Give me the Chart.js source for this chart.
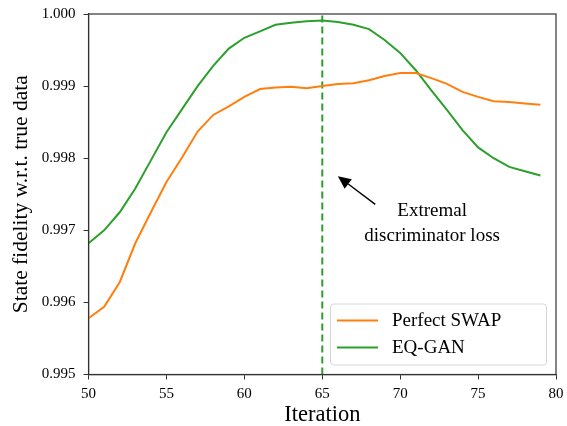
<!DOCTYPE html>
<html>
<head>
<meta charset="utf-8">
<script src="https://cdn.jsdelivr.net/npm/chart.js@4/dist/chart.umd.min.js"></script>
<style>
  html, body { margin: 0; padding: 0; background: #fff; }
  #wrap { width: 567px; height: 426px; }
</style>
</head>
<body>
<div id="wrap"><canvas id="fidelityChart"></canvas></div>
<script>
const iterations = [50, 51, 52, 53, 54, 55, 56, 57, 58, 59, 60, 61, 62, 63, 64,
    65, 66, 67, 68, 69, 70, 71, 72, 73, 74, 75, 76, 77, 78, 79];
const perfectSwap = [0.99578, 0.99594, 0.99628, 0.99682, 0.99725, 0.99767, 0.99801, 0.99837, 0.99860, 0.99872,
    0.99885, 0.99896, 0.99898, 0.99899, 0.99897, 0.99900, 0.99903, 0.99904, 0.99908, 0.99914,
    0.99918, 0.99918, 0.99911, 0.99903, 0.99892, 0.99885, 0.99879, 0.99878, 0.99876, 0.99874];
const eqGan = [0.99682, 0.99700, 0.99725, 0.99758, 0.99797, 0.99836, 0.99868, 0.99900, 0.99928, 0.99952,
    0.99967, 0.99976, 0.99985, 0.99988, 0.99990, 0.99991, 0.99989, 0.99985, 0.99979, 0.99964,
    0.99946, 0.99922, 0.99894, 0.99867, 0.99839, 0.99815, 0.99800, 0.99788, 0.99782, 0.99776];
const xTicks = [50, 55, 60, 65, 70, 75, 80];
const yTicks = [0.995, 0.996, 0.997, 0.998, 0.999, 1.000];
const markerIteration = 65;
const arrowTip = { x: 66, y: 0.99775 };
const arrowTail = { x: 68.4, y: 0.99736 };
const noteLines = ['Extremal', 'discriminator loss'];
const noteAnchor = { x: 72.05, y: 0.99720 };

const serif = '"Liberation Serif", "Times New Roman", serif';
const orange = '#ff7f0e';
const green = '#2ca02c';
const axisInk = '#333333';

const toPoints = (values) => values.map((v, i) => ({ x: iterations[i], y: v }));

const framePlugin = {
    id: 'frameAndNotes',
    afterDatasetsDraw(chart) {
        const { ctx, chartArea, scales } = chart;
        const xs = scales.x;
        const ys = scales.y;

        // frame on all four sides
        ctx.save();
        ctx.strokeStyle = axisInk;
        ctx.lineWidth = 1.2;
        ctx.strokeRect(chartArea.left, chartArea.top, chartArea.right - chartArea.left, chartArea.bottom - chartArea.top);

        // annotation arrow
        const tx = xs.getPixelForValue(arrowTip.x);
        const ty = ys.getPixelForValue(arrowTip.y);
        const sx = xs.getPixelForValue(arrowTail.x);
        const sy = ys.getPixelForValue(arrowTail.y);
        const ang = Math.atan2(ty - sy, tx - sx);
        const headLen = 13;
        const headHalf = 6;
        const bx = tx - headLen * Math.cos(ang);
        const by = ty - headLen * Math.sin(ang);
        ctx.strokeStyle = '#000';
        ctx.fillStyle = '#000';
        ctx.lineWidth = 1.4;
        ctx.beginPath();
        ctx.moveTo(sx, sy);
        ctx.lineTo(bx, by);
        ctx.stroke();
        ctx.beginPath();
        ctx.moveTo(tx, ty);
        ctx.lineTo(bx + headHalf * Math.sin(ang), by - headHalf * Math.cos(ang));
        ctx.lineTo(bx - headHalf * Math.sin(ang), by + headHalf * Math.cos(ang));
        ctx.closePath();
        ctx.fill();

        // annotation text
        ctx.font = '19px ' + serif;
        ctx.textAlign = 'center';
        ctx.textBaseline = 'alphabetic';
        const nx = xs.getPixelForValue(noteAnchor.x);
        const ny = ys.getPixelForValue(noteAnchor.y);
        noteLines.forEach((line, i) => ctx.fillText(line, nx, ny + i * 25));

        // legend box in lower right
        const lines = chart.data.datasets.filter((d) => d.label);
        const boxW = 216;
        const boxH = 61;
        const boxX = chartArea.right - 10 - boxW;
        const boxY = chartArea.bottom - 10 - boxH;
        ctx.fillStyle = 'rgba(255,255,255,0.85)';
        ctx.strokeStyle = '#d6d6d6';
        ctx.lineWidth = 1;
        ctx.beginPath();
        ctx.roundRect(boxX + 0.5, boxY + 0.5, boxW, boxH, 3);
        ctx.fill();
        ctx.stroke();
        ctx.textAlign = 'left';
        ctx.textBaseline = 'middle';
        lines.forEach((d, i) => {
            const cy = boxY + 17 + i * 27;
            ctx.strokeStyle = d.borderColor;
            ctx.lineWidth = 2;
            ctx.beginPath();
            ctx.moveTo(boxX + 7, cy);
            ctx.lineTo(boxX + 48, cy);
            ctx.stroke();
            ctx.fillStyle = '#000';
            ctx.fillText(d.label, boxX + 62, cy + 1);
        });
        ctx.restore();
    },
};

new Chart(document.getElementById('fidelityChart'), {
    type: 'line',
    data: {
        datasets: [
            {
                label: 'Perfect SWAP',
                data: toPoints(perfectSwap),
                borderColor: orange,
                borderWidth: 2,
                pointRadius: 0,
                tension: 0,
            },
            {
                label: 'EQ-GAN',
                data: toPoints(eqGan),
                borderColor: green,
                borderWidth: 2,
                pointRadius: 0,
                tension: 0,
            },
            {
                label: '',
                data: [{ x: markerIteration, y: yTicks[0] }, { x: markerIteration, y: yTicks[yTicks.length - 1] }],
                borderColor: green,
                borderWidth: 2,
                borderDash: [7, 4],
                pointRadius: 0,
            },
        ],
    },
    options: {
        responsive: true,
        maintainAspectRatio: false,
        animation: false,
        layout: { padding: { top: 14, right: 11, left: 8, bottom: 0 } },
        plugins: {
            legend: { display: false },
            tooltip: { enabled: false },
        },
        scales: {
            x: {
                type: 'linear',
                min: xTicks[0],
                max: xTicks[xTicks.length - 1],
                afterBuildTicks: (axis) => { axis.ticks = xTicks.map((v) => ({ value: v })); },
                afterFit: (axis) => { axis.paddingRight = 0; axis.paddingLeft = 0; },
                grid: { drawOnChartArea: false, drawTicks: true, tickLength: 5, color: axisInk },
                border: { color: axisInk, width: 1.2 },
                ticks: { color: '#000', font: { family: serif, size: 15, lineHeight: 1 }, padding: 7, maxRotation: 0 },
                title: { display: true, text: 'Iteration', color: '#000', font: { family: serif, size: 22.5, lineHeight: 1 }, padding: { top: -5, bottom: 0 } },
            },
            y: {
                min: yTicks[0],
                max: yTicks[yTicks.length - 1],
                afterBuildTicks: (axis) => { axis.ticks = yTicks.map((v) => ({ value: v })); },
                afterFit: (axis) => { axis.paddingTop = 0; axis.paddingBottom = 0; },
                grid: { drawOnChartArea: false, drawTicks: true, tickLength: 5, color: axisInk },
                border: { color: axisInk, width: 1.2 },
                ticks: { color: '#000', font: { family: serif, size: 15 }, padding: 8, callback: (v) => Number(v).toFixed(3) },
                title: { display: true, text: 'State fidelity w.r.t. true data', color: '#000', font: { family: serif, size: 21.5 }, padding: { top: 0, bottom: 0 } },
            },
        },
    },
    plugins: [framePlugin],
});
</script>
</body>
</html>
